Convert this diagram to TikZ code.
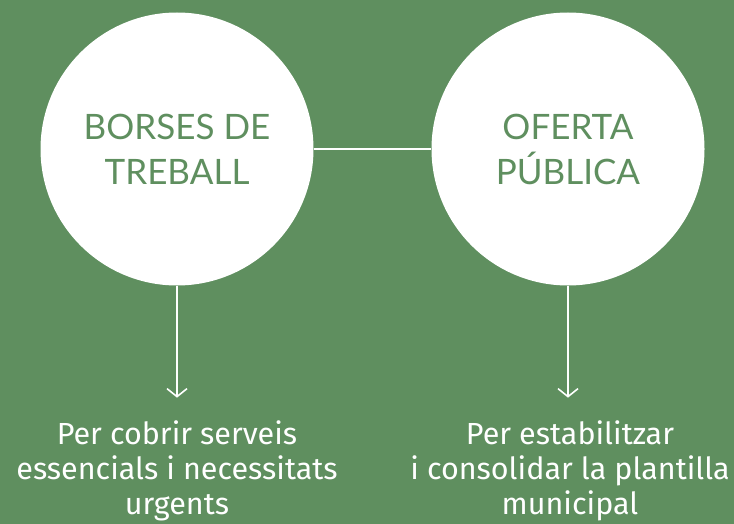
\documentclass[tikz,border=0pt]{standalone}
\usepackage{fontspec}
\setmainfont{Fira Sans}
\newfontfamily\capsfont{Lato}
\usetikzlibrary{arrows.meta,positioning}
\definecolor{bggreen}{RGB}{95,143,95}

\begin{document}
\begin{tikzpicture}[x=1pt,y=-1pt,
    circ/.style={circle,fill=white,minimum size=273pt,inner sep=0pt,
                 font=\capsfont\fontsize{35}{45}\selectfont,text=bggreen,align=center},
    note/.style={inner sep=0pt,font=\fontsize{30.5}{35}\selectfont,text=white,align=center},
    link/.style={draw=white,line width=1.6pt},
    arrow/.style={-{Straight Barb[length=8pt,width=20pt,line width=1.6pt]},line width=1.6pt,
                  color=white,shorten >=23pt}
]
\fill[bggreen] (0,0) rectangle (734,524);
\useasboundingbox (0,0) rectangle (734,524);
\node[circ] (A) at (177,149) {BORSES DE\\TREBALL};
\node[circ] (B) at (568,149) {OFERTA\\PÚBLICA};
\node[note] (C) at (177,471) {Per cobrir serveis\\essencials i necessitats\\urgents};
\node[note] (D) at (570,471) {Per estabilitzar\\i consolidar la plantilla\\municipal};
\draw[link] (A)--(B);
\draw[arrow] (A.south)--(A.south|-C.north);
\draw[arrow] (B.south)--(B.south|-D.north);
\end{tikzpicture}
\end{document}
